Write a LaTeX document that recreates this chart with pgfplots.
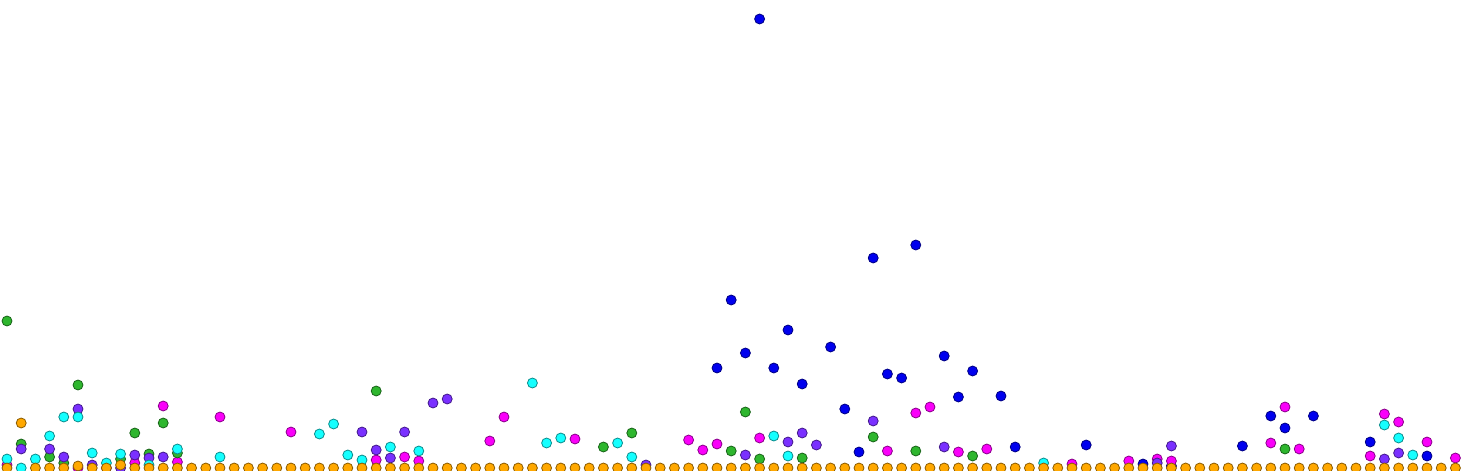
\documentclass[border=0pt]{standalone}
\usepackage{pgfplots}
\pgfplotsset{compat=1.18}

\definecolor{sblue}{RGB}{0,0,238}
\definecolor{smagenta}{RGB}{250,0,250}
\definecolor{sgreen}{RGB}{46,182,46}
\definecolor{spurple}{RGB}{122,48,255}
\definecolor{scyan}{RGB}{20,255,255}
\definecolor{sorange}{RGB}{255,168,0}

\pgfplotsset{
  dot/.style={only marks, mark=*, mark size=2.5pt,
    mark options={fill=#1, draw=black!45!#1, line width=0.4pt}},
}

\begin{document}
\begin{tikzpicture}
\begin{axis}[
  name=ax,
  width=732bp, height=235.5bp, scale only axis,
  xmin=-0.493, xmax=102.606,
  ymin=-3, ymax=468,
  axis line style={draw=none},
  ticks=none,
  clip marker paths=true,
]
% blue
\addplot[dot=sblue] coordinates {
  (50,100) (51,168) (52,115) (53,449) (54,100) (55,138) (56,84) (58,121)
  (59,59) (60,16) (61,210) (62,94) (63,90) (64,223) (66,112) (67,71)
  (68,97) (70,72) (71,21) (76,23) (80,4) (82,2) (87,22) (89,52) (90,40)
  (92,52) (96,26) (100,12)
};
% magenta
\addplot[dot=smagenta] coordinates {
  (0,3) (5,0) (7,0) (9,5) (11,62) (12,6) (15,51) (20,36) (26,8) (28,11)
  (29,7) (34,27) (35,51) (40,29) (48,28) (49,18) (50,24) (53,30) (62,17)
  (64,55) (65,61) (67,16) (69,19) (75,4) (79,7) (81,9) (82,7) (89,25)
  (90,61) (91,19) (96,12) (97,54) (98,46) (100,26) (102,10)
};
% green
\addplot[dot=sgreen] coordinates {
  (0,147) (1,24) (3,11) (4,5) (5,83) (8,9) (9,35) (10,14) (11,45) (12,15)
  (26,77) (42,21) (44,35) (51,17) (52,56) (53,9) (56,10) (61,31) (64,17)
  (68,12) (90,19)
};
% purple
\addplot[dot=spurple] coordinates {
  (1,19) (3,19) (4,11) (5,59) (6,3) (8,0) (9,13) (10,10) (11,11) (25,36)
  (26,18) (27,10) (28,36) (30,65) (31,69) (45,3) (52,13) (55,26) (56,35)
  (57,23) (61,47) (66,21) (81,5) (82,22) (97,9) (98,15)
};
% cyan
\addplot[dot=scyan] coordinates {
  (0,9) (1,0) (2,9) (3,32) (4,51) (5,51) (6,15) (7,5) (8,14) (10,3)
  (12,19) (15,11) (22,34) (23,44) (24,13) (25,8) (27,21) (29,17) (37,85)
  (38,25) (39,30) (43,25) (44,11) (54,32) (55,12) (73,5) (97,43) (98,30)
  (99,13)
};
% orange
\addplot[dot=sorange] coordinates {
  (0,0) (1,45) (2,0) (3,0) (4,0) (5,2) (6,0) (7,0) (8,3) (9,0)
  (10,0) (11,0) (12,0) (13,0) (14,0) (15,0) (16,0) (17,0) (18,0) (19,0)
  (20,0) (21,0) (22,0) (23,0) (24,0) (25,0) (26,0) (27,0) (28,0) (29,0)
  (30,0) (31,0) (32,0) (33,0) (34,0) (35,0) (36,0) (37,0) (38,0) (39,0)
  (40,0) (41,0) (42,0) (43,0) (44,0) (45,0) (46,0) (47,0) (48,0) (49,0)
  (50,0) (51,0) (52,0) (53,0) (54,0) (55,0) (56,0) (57,0) (58,0) (59,0)
  (60,0) (61,0) (62,0) (63,0) (64,0) (65,0) (66,0) (67,0) (68,0) (69,0)
  (70,0) (71,0) (72,0) (73,0) (74,0) (75,0) (76,0) (77,0) (78,0) (79,0)
  (80,0) (81,0) (82,0) (83,0) (84,0) (85,0) (86,0) (87,0) (88,0) (89,0)
  (90,0) (91,0) (92,0) (93,0) (94,0) (95,0) (96,0) (97,0) (98,0) (99,0)
  (100,0) (101,0) (102,0)
};
\end{axis}
\pgfresetboundingbox
\path (ax.south west) rectangle (ax.north east);
\end{tikzpicture}
\end{document}
